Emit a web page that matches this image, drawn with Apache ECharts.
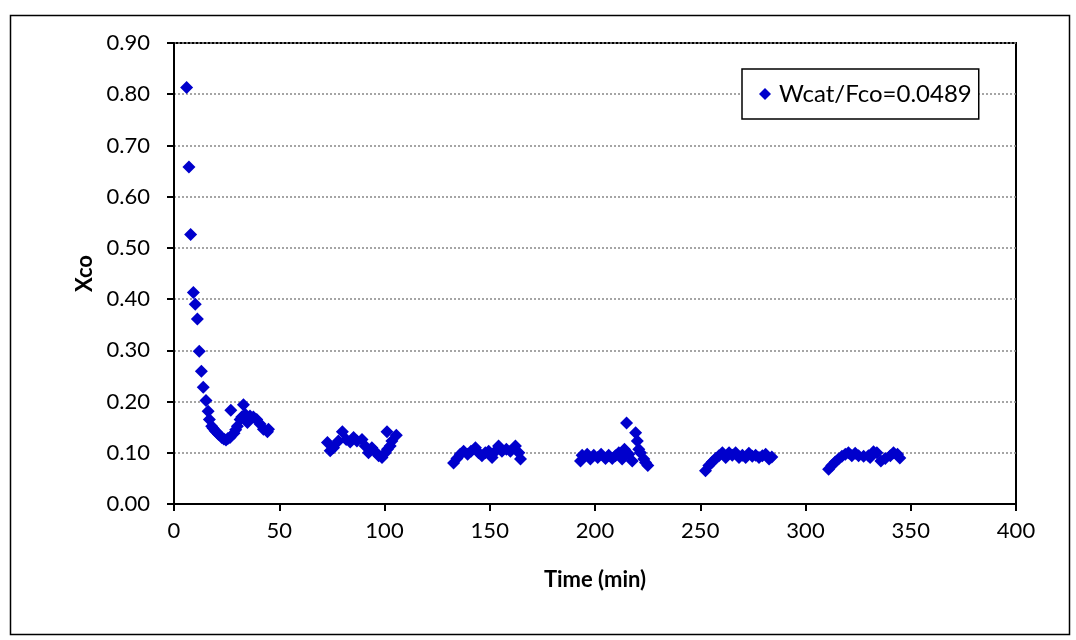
<!DOCTYPE html>
<html>
<head>
<meta charset="utf-8">
<script src="https://cdn.jsdelivr.net/npm/echarts@6/dist/echarts.min.js"></script>
<style>
html,body{margin:0;padding:0;background:#fff;}
#c{width:1076px;height:640px;}
</style>
</head>
<body>
<div id="c"></div>
<script>
const seriesName = 'Wcat/Fco=0.0489';
const xTitle = 'Time (min)';
const yTitle = 'Xco';
const timeMin = [
  6.0, 7.1, 7.9, 9.2, 10.1, 11.1, 12.0, 13.0, 13.9, 15.2, 16.2, 16.8, 17.9, 18.6, 19.5, 20.3, 21.1, 22.7, 23.7, 24.7, 25.6, 26.6, 27.0, 28.5, 29.3, 30.1, 31.4, 32.2, 33.0, 33.8, 34.9, 36.1, 37.7, 39.3, 40.9, 42.5, 44.4, 44.9,
  72.9, 74.2, 75.8, 78.1, 80.0, 81.8, 83.7, 85.3, 86.9, 89.3, 90.8, 92.4, 94.0, 95.6, 97.2, 98.8, 100.4, 101.2, 101.4, 102.7, 103.5, 105.6,
  132.8, 134.4, 136.0, 137.6, 139.5, 141.1, 143.2, 144.7, 146.3, 147.9, 149.5, 151.1, 152.7, 154.2, 155.8, 157.9, 159.8, 162.2, 163.8, 164.6,
  193.1, 193.9, 196.3, 197.8, 199.4, 201.3, 202.9, 205.0, 206.5, 208.2, 209.7, 211.3, 212.9, 214.0, 215.0, 216.1, 217.7, 219.3, 220.1, 220.8, 221.6, 223.2, 224.0, 225.1,
  252.5, 254.1, 255.7, 257.3, 258.9, 260.5, 262.1, 263.7, 265.2, 266.8, 268.4, 270.0, 271.6, 273.1, 274.7, 276.3, 277.9, 279.5, 281.1, 282.7, 284.0,
  311.0, 312.5, 314.1, 315.7, 317.3, 318.9, 320.4, 322.0, 323.6, 325.2, 327.6, 329.9, 330.7, 332.3, 333.9, 335.8, 337.9, 340.3, 341.8, 343.7, 344.8
];
const xcoValues = [
  0.813, 0.658, 0.526, 0.413, 0.390, 0.361, 0.298, 0.259, 0.228, 0.202, 0.181, 0.165, 0.152, 0.148, 0.143, 0.140, 0.136, 0.130, 0.127, 0.125, 0.128, 0.130, 0.183, 0.138, 0.145, 0.152, 0.165, 0.170, 0.194, 0.175, 0.159, 0.172, 0.170, 0.165, 0.156, 0.146, 0.141, 0.146,
  0.120, 0.104, 0.110, 0.123, 0.141, 0.126, 0.121, 0.130, 0.123, 0.126, 0.113, 0.100, 0.110, 0.102, 0.094, 0.091, 0.100, 0.141, 0.107, 0.113, 0.123, 0.134,
  0.080, 0.089, 0.097, 0.103, 0.097, 0.103, 0.110, 0.100, 0.094, 0.100, 0.103, 0.091, 0.103, 0.113, 0.103, 0.107, 0.103, 0.113, 0.100, 0.088,
  0.084, 0.095, 0.097, 0.088, 0.095, 0.091, 0.097, 0.089, 0.095, 0.089, 0.094, 0.100, 0.088, 0.107, 0.158, 0.097, 0.084, 0.139, 0.123, 0.107, 0.100, 0.088, 0.081, 0.075,
  0.065, 0.075, 0.082, 0.089, 0.094, 0.100, 0.091, 0.100, 0.095, 0.100, 0.091, 0.095, 0.091, 0.099, 0.093, 0.095, 0.091, 0.094, 0.097, 0.088, 0.092,
  0.068, 0.075, 0.082, 0.088, 0.093, 0.097, 0.100, 0.094, 0.099, 0.094, 0.093, 0.094, 0.091, 0.102, 0.100, 0.084, 0.089, 0.094, 0.100, 0.097, 0.090
];
const yTickDecimals = 2;

const points = timeMin.map((t, i) => [t, xcoValues[i]]);
const FONT = 'Lato, "Open Sans", sans-serif';

const chart = echarts.init(document.getElementById('c'), null, {renderer: 'canvas'});
chart.setOption({
  animation: false,
  backgroundColor: '#fff',
  grid: {left: 174, right: 60, top: 43, bottom: 136, show: true, borderColor: '#000', borderWidth: 2, backgroundColor: 'transparent'},
  legend: {
    left: 742, top: 69,
    data: [{name: seriesName, icon: 'diamond', itemStyle: {color: '#0000CC', opacity: 1}}],
    itemWidth: 12, itemHeight: 12,
    backgroundColor: '#fff', borderColor: '#000', borderWidth: 1.5,
    padding: [13, 7, 13, 17],
    textStyle: {fontFamily: FONT, fontSize: 24, color: '#000', padding: [0, 0, 0, 3]}
  },
  xAxis: {
    type: 'value', min: 0, max: 400, interval: 50,
    name: xTitle, nameLocation: 'middle', nameGap: 65,
    nameTextStyle: {fontFamily: FONT, fontSize: 22, fontWeight: 'bold', color: '#000'},
    axisLine: {show: true, lineStyle: {color: '#000', width: 2}},
    axisTick: {show: true, length: 7, lineStyle: {color: '#000', width: 2}},
    axisLabel: {fontFamily: FONT, fontSize: 22, color: '#000', margin: 16},
    splitLine: {show: false}
  },
  yAxis: {
    type: 'value', min: 0, max: 0.9, interval: 0.1,
    name: yTitle, nameLocation: 'middle', nameGap: 73, nameRotate: 90,
    nameTextStyle: {fontFamily: FONT, fontSize: 22, fontWeight: 'bold', color: '#000'},
    axisLine: {show: true, lineStyle: {color: '#000', width: 2}},
    axisTick: {show: true, length: 7, lineStyle: {color: '#000', width: 2}},
    axisLabel: {fontFamily: FONT, fontSize: 22, color: '#000', margin: 24,
      formatter: v => v.toFixed(yTickDecimals)},
    splitLine: {show: true, lineStyle: {color: '#888', width: 1.5, type: [2, 2]}}
  },
  series: [{
    name: seriesName, type: 'scatter', data: points,
    symbol: 'diamond', symbolSize: 13,
    itemStyle: {color: '#0000CC', opacity: 1}
  }],
  graphic: [{
    type: 'rect', left: 8, top: 13, z: -1, silent: true,
    shape: {x: 0, y: 0, width: 1059, height: 619},
    style: {fill: 'none', stroke: '#000', lineWidth: 1.5}
  }]
});
</script>
</body>
</html>
